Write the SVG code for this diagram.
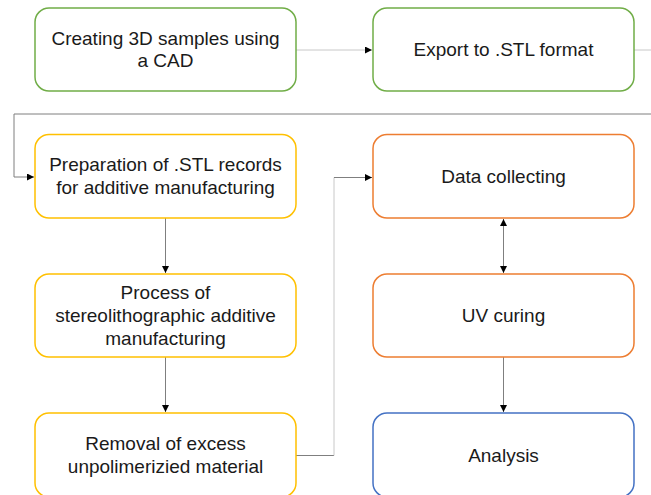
<svg xmlns="http://www.w3.org/2000/svg" width="651" height="495" viewBox="0 0 651 495">
<defs>
<marker id="ah" viewBox="0 0 10 10" refX="10" refY="5" markerWidth="7" markerHeight="7" markerUnits="userSpaceOnUse" orient="auto-start-reverse">
<path d="M0,0 L10,5 L0,10 z" fill="#000"/>
</marker>
<style>
.box{fill:#fff;stroke-width:1.5}
.g{stroke:#70AD47}.y{stroke:#FFC000}.o{stroke:#ED7D31}.b{stroke:#4472C4}
text{font-family:"Liberation Sans",Arial,sans-serif;font-size:19px;fill:#1a1a1a;text-anchor:middle}
.c{fill:none;stroke:#7f7f7f;stroke-width:1}
.cl{fill:none;stroke:#c8c8c8;stroke-width:1}
</style>
</defs>
<rect width="651" height="495" fill="#fff"/>
<g id="connectors">
<line class="cl" x1="296" y1="50" x2="372" y2="50" marker-end="url(#ah)"/>
<line class="cl" x1="634" y1="50" x2="651" y2="50"/>
<polyline class="c" points="651,114 14,114 14,177 34,177" marker-end="url(#ah)"/>
<line class="c" x1="165.5" y1="218" x2="165.5" y2="273" marker-end="url(#ah)"/>
<line class="c" x1="165.5" y1="357" x2="165.5" y2="412" marker-end="url(#ah)"/>
<line class="c" x1="296" y1="455.5" x2="334" y2="455.5"/>
<line class="cl" x1="334" y1="455.5" x2="334" y2="177.5"/>
<line class="c" x1="334" y1="177.5" x2="372" y2="177.5" marker-end="url(#ah)"/>
<line class="c" x1="503.5" y1="219" x2="503.5" y2="273" marker-start="url(#ah)" marker-end="url(#ah)"/>
<line class="c" x1="503.5" y1="357" x2="503.5" y2="412" marker-end="url(#ah)"/>
</g>
<g id="n1"><rect class="box g" x="35" y="8" width="261" height="83" rx="14"/><text x="165.5" y="44.5">Creating 3D samples using</text><text x="165.5" y="67">a CAD</text></g>
<g id="n2"><rect class="box g" x="373" y="8" width="261" height="83" rx="14"/><text x="503.5" y="56">Export to .STL format</text></g>
<g id="n3"><rect class="box y" x="35" y="134.5" width="261" height="83.5" rx="14"/><text x="165.5" y="171">Preparation of .STL records</text><text x="165.5" y="194">for additive manufacturing</text></g>
<g id="n4"><rect class="box y" x="35" y="274" width="261" height="83" rx="14"/><text x="165.5" y="299">Process of</text><text x="165.5" y="322">stereolithographic additive</text><text x="165.5" y="345">manufacturing</text></g>
<g id="n5"><rect class="box y" x="35" y="413" width="261" height="84" rx="14"/><text x="165.5" y="449.5">Removal of excess</text><text x="165.5" y="472.5">unpolimerizied material</text></g>
<g id="n6"><rect class="box o" x="373" y="134.5" width="261" height="83.5" rx="14"/><text x="503.5" y="183">Data collecting</text></g>
<g id="n7"><rect class="box o" x="373" y="274" width="261" height="83" rx="14"/><text x="503.5" y="322">UV curing</text></g>
<g id="n8"><rect class="box b" x="373" y="413" width="261" height="84" rx="14"/><text x="503.5" y="461.5">Analysis</text></g>
</svg>
